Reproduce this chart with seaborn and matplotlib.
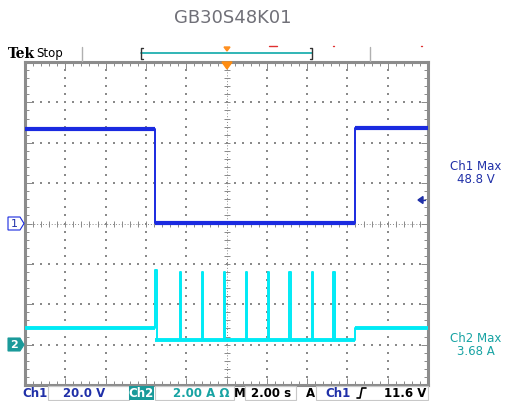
import numpy as np
import pandas as pd
from matplotlib import pyplot as plt
from matplotlib.patches import Rectangle, Polygon
from matplotlib.lines import Line2D
import seaborn as sns

sns.set_style("white")
plt.rcParams['font.family'] = ['DejaVu Sans']

# --- scope settings (per division) ---
ch1_scale = 20.0   # V/div
ch2_scale = 2.0    # A/div
ch2_offset = -3.0  # ground of ch2 in divisions
t_div = 2.0        # s/div

# --- Ch1 voltage trace (s, V) ---
ch1_t = [0.0, 6.47, 6.47, 16.37, 16.37, 20.0]
ch1_v = [47.0, 47.0, 0.3, 0.3, 47.2, 47.2]

# --- Ch2 current: levels and spikes ---
ch2_fall = 6.47
ch2_rise = 16.37
ch2_pre = 0.82
ch2_low = 0.22
ch2_post = 0.82
spike_t = [6.47, 7.68, 8.76, 9.87, 10.95, 12.04, 13.12, 14.23, 15.31]
spike_a = [3.70, 3.62, 3.58, 3.62, 3.62, 3.62, 3.62, 3.62, 3.62]
spike_w = 0.08

W, H = 506, 402
fig = plt.figure(figsize=(W / 100, H / 100), dpi=100)
ax = fig.add_axes([25 / W, (H - 386) / H, 403 / W, 323 / H])

def fx(x):
    return x / W

def fy(y):
    return 1 - y / H

ch1_col = "#1a2ae0"
ch2_col = "#00eaf5"
ch1_txt = "#2030a8"
ch2_txt = "#17a3a3"
grid_col = "#8a8a8a"

# graticule dots
xs = np.arange(0, 20.001, 0.4)
ys = np.arange(-4, 4.001, 0.2)
for gy in [-3, -2, -1, 1, 2, 3]:
    ax.scatter(xs, np.full(len(xs), gy), s=0.8, marker="s", color=grid_col, linewidths=0, zorder=1)
for gx in [2, 4, 6, 8, 12, 14, 16, 18]:
    ax.scatter(np.full(len(ys), gx), ys, s=0.8, marker="s", color=grid_col, linewidths=0, zorder=1)
# center crosshair with ticks
ax.plot([0, 20], [0, 0], ls=(0, (1, 2)), color=grid_col, lw=0.7, zorder=1)
ax.plot([10, 10], [-4, 4], ls=(0, (1, 2)), color=grid_col, lw=0.7, zorder=1)
ax.plot(xs, np.zeros(len(xs)), ls="none", marker="|", ms=4, mew=0.7, color=grid_col, zorder=1)
ax.plot(np.full(len(ys), 10), ys, ls="none", marker="_", ms=4, mew=0.7, color=grid_col, zorder=1)

# Ch1
df1 = pd.DataFrame({"t": ch1_t, "div": np.array(ch1_v) / ch1_scale})
sns.lineplot(data=df1, x="t", y="div", sort=False, estimator=None, color=ch1_col, lw=1.4, ax=ax, zorder=4)
for i in range(len(ch1_t) - 1):
    if ch1_v[i] == ch1_v[i + 1]:
        ax.hlines(ch1_v[i] / ch1_scale, ch1_t[i], ch1_t[i + 1], color=ch1_col, lw=3, zorder=4)

# Ch2
pts = [(0.0, ch2_pre)]
for t, a in zip(spike_t, spike_a):
    base = ch2_pre if t <= ch2_fall else ch2_low
    pts += [(t, base), (t, a), (t + spike_w, a), (t + spike_w, ch2_low)]
pts += [(ch2_rise, ch2_low), (ch2_rise, ch2_post), (20.0, ch2_post)]
df2 = pd.DataFrame(pts, columns=["t", "amp"])
df2["div"] = df2["amp"] / ch2_scale + ch2_offset
sns.lineplot(data=df2, x="t", y="div", sort=False, estimator=None, color=ch2_col, lw=1.4, ax=ax, zorder=3)
for a, b, lv in [(0, ch2_fall, ch2_pre), (ch2_fall, ch2_rise, ch2_low), (ch2_rise, 20, ch2_post)]:
    ax.hlines(lv / ch2_scale + ch2_offset, a, b, color=ch2_col, lw=2.8, zorder=3)

ax.set_xlim(0, 20)
ax.set_ylim(-4, 4)
ax.set_xlabel("")
ax.set_ylabel("")
ax.set_xticks(np.arange(0, 20.001, t_div))
ax.set_yticks(np.arange(-4, 4.001, 1))
ax.set_xticks(xs, minor=True)
ax.set_yticks(ys, minor=True)
ax.tick_params(which="both", direction="in", top=True, right=True, left=True, bottom=True,
               labelbottom=False, labelleft=False, color=grid_col, width=0.7)
ax.tick_params(which="major", length=5)
ax.tick_params(which="minor", length=3)
for s in ax.spines.values():
    s.set_color("#8c8c8c")
    s.set_linewidth(2.2)

# title
fig.text(fx(233), fy(18), "GB30S48K01", ha="center", va="center", fontsize=13, color="#707078")

# top status bar
fig.text(fx(8), fy(54), "Tek", ha="left", va="center", fontsize=10, fontweight="bold",
         family="DejaVu Serif", color="black")
fig.text(fx(36), fy(54), "Stop", ha="left", va="center", fontsize=8.5, color="black")
for x in [82, 370]:
    fig.add_artist(Line2D([fx(x), fx(x)], [fy(48), fy(62)], color="#b0b0b0", lw=1))
fig.add_artist(Line2D([fx(141), fx(312)], [fy(54), fy(54)], color="#20b0b0", lw=1.3))
for x, d in [(141, 1), (312, -1)]:
    fig.add_artist(Line2D([fx(x + 2 * d), fx(x), fx(x), fx(x + 2 * d)],
                          [fy(49), fy(49), fy(60), fy(60)], color="#333333", lw=1))
fig.add_artist(Polygon([(fx(224), fy(48)), (fx(230), fy(48)), (fx(227), fy(52))], color="#ff9020"))
fig.add_artist(Polygon([(fx(222), fy(63)), (fx(232), fy(63)), (fx(227), fy(70))], color="#ff8c10", zorder=10))
fig.add_artist(Line2D([fx(269), fx(277)], [fy(47), fy(47)], color="#e03030", lw=1))
for x in [333, 421]:
    fig.add_artist(Line2D([fx(x), fx(x + 1.5)], [fy(47), fy(47)], color="#e03030", lw=1))

# channel ground markers
fig.add_artist(Polygon([(fx(8), fy(218)), (fx(20), fy(218)), (fx(24), fy(224.5)),
                        (fx(20), fy(231)), (fx(8), fy(231))],
                       facecolor="white", edgecolor=ch1_col, lw=0.8))
fig.text(fx(14), fy(224.5), "1", ha="center", va="center", fontsize=8, color=ch1_txt)
fig.add_artist(Polygon([(fx(8), fy(339)), (fx(20), fy(339)), (fx(24), fy(345.8)),
                        (fx(20), fy(352)), (fx(8), fy(352))],
                       facecolor="#1a9a9a", edgecolor="#1a9a9a", lw=0.8))
fig.text(fx(14), fy(345.5), "2", ha="center", va="center", fontsize=8, color="white", fontweight="bold")

# trigger level arrow
fig.add_artist(Polygon([(fx(418), fy(201)), (fx(423), fy(197.5)), (fx(423), fy(204.5))], color=ch1_txt))
fig.add_artist(Line2D([fx(422), fx(425)], [fy(201), fy(201)], color=ch1_txt, lw=1))

# right-side readouts
fig.text(fx(476), fy(167), "Ch1 Max", ha="center", va="center", fontsize=8.5, color=ch1_txt)
fig.text(fx(476), fy(179.5), "48.8 V", ha="center", va="center", fontsize=8.5, color=ch1_txt)
fig.text(fx(476), fy(339), "Ch2 Max", ha="center", va="center", fontsize=8.5, color=ch2_txt)
fig.text(fx(476), fy(351.5), "3.68 A", ha="center", va="center", fontsize=8.5, color=ch2_txt)

# bottom status bar
yb = fy(394)
for x0, x1 in [(48, 129), (155, 234), (245, 296), (316, 428)]:
    fig.add_artist(Rectangle((fx(x0), fy(401)), fx(x1 - x0), 14 / H, fill=False,
                             edgecolor="#c8c8c8", lw=0.8))
fig.add_artist(Rectangle((fx(129), fy(401)), fx(25), 14 / H, facecolor="#1a9a9a", edgecolor="none"))
kw = dict(va="center", fontsize=8.5, fontweight="bold")
fig.text(fx(35), yb, "Ch1", ha="center", color=ch1_txt, **kw)
fig.text(fx(84), yb, "20.0 V", ha="center", color=ch1_txt, **kw)
fig.text(fx(141.5), yb, "Ch2", ha="center", color="white", **kw)
fig.text(fx(201), yb, "2.00 A \u03a9", ha="center", color=ch2_txt, **kw)
fig.text(fx(240), yb, "M", ha="center", color="black", **kw)
fig.text(fx(271), yb, "2.00 s", ha="center", color="black", **kw)
fig.text(fx(310), yb, "A", ha="center", color="black", **kw)
fig.text(fx(338), yb, "Ch1", ha="center", color=ch1_txt, **kw)
fig.add_artist(Line2D([fx(357), fx(360), fx(362), fx(366)], [fy(399), fy(399), fy(389), fy(389)],
                      color="black", lw=1.2))
fig.text(fx(405), yb, "11.6 V", ha="center", color="black", **kw)

fig.savefig("out.png", dpi=100)
